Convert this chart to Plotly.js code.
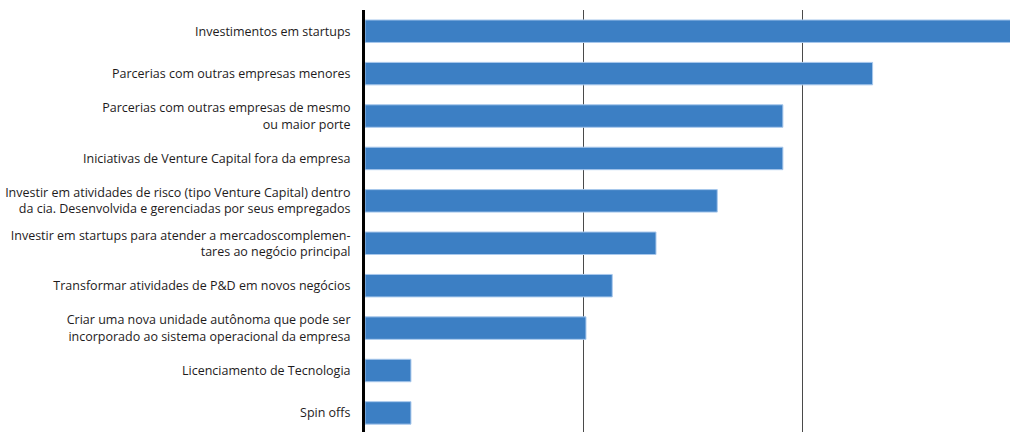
<!DOCTYPE html>
<html>
<head>
<meta charset="utf-8">
<script src="https://cdn.plot.ly/plotly-3.0.1.min.js"></script>
<style>html,body{margin:0;padding:0;background:#fff;}#chart{width:1010px;height:432px;}</style>
</head>
<body>
<div id="chart"></div>
<script>
const categories = [
  "Investimentos em startups",
  "Parcerias com outras empresas menores",
  "Parcerias com outras empresas de mesmo<br>ou maior porte",
  "Iniciativas de Venture Capital fora da empresa",
  "Investir em atividades de risco (tipo Venture Capital) dentro<br>da cia. Desenvolvida e gerenciadas por seus empregados",
  "Investir em startups para atender a mercadoscomplemen-<br>tares ao negócio principal",
  "Transformar atividades de P&D em novos negócios",
  "Criar uma nova unidade autônoma que pode ser<br>incorporado ao sistema operacional da empresa",
  "Licenciamento de Tecnologia",
  "Spin offs"
];
const values = [30, 23.2, 19.1, 19.1, 16.1, 13.3, 11.3, 10.1, 2.1, 2.1];

const trace = {
  type: 'bar',
  orientation: 'h',
  y: categories,
  x: values,
  marker: {color: '#3c7fc4', line: {color: '#a8c8ec', width: 1}},
  hoverinfo: 'none'
};

const layout = {
  width: 1010,
  height: 432,
  margin: {l: 365, r: 0, t: 10, b: 0, pad: 0},
  paper_bgcolor: '#ffffff',
  plot_bgcolor: '#ffffff',
  showlegend: false,
  bargap: 0.47,
  font: {family: '"Open Sans", sans-serif', size: 12.5, color: '#1e1b1c'},
  xaxis: {
    range: [0, 29.48],
    dtick: 10,
    tick0: 0,
    showgrid: true,
    gridcolor: '#4a4a4a',
    gridwidth: 1,
    zeroline: false,
    showticklabels: false,
    showline: false,
    ticks: ''
  },
  yaxis: {
    type: 'category',
    range: [9.45, -0.5],
    showgrid: false,
    zeroline: false,
    showline: true,
    linecolor: '#000000',
    linewidth: 3,
    ticks: '',
    ticklabelstandoff: 9,
    tickfont: {family: '"Open Sans", sans-serif', size: 12.5, color: '#1e1b1c'}
  }
};

Plotly.newPlot('chart', [trace], layout, {staticPlot: true, displayModeBar: false});
</script>
</body>
</html>
